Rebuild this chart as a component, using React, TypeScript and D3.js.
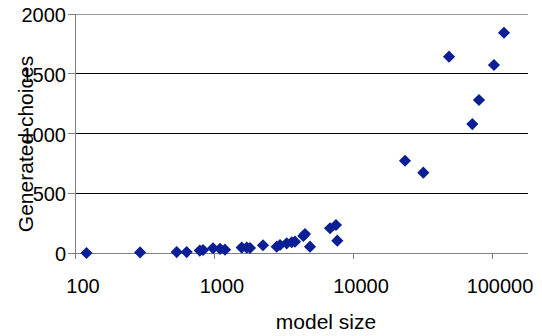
import React from "react";
import * as d3 from "d3";

const modelSizes = [121, 294, 539, 636, 790, 834, 984, 1105, 1200, 1582, 1719, 1816, 2252, 2825, 2985, 3334, 3623, 3825, 4390, 4515, 4907, 6834, 7545, 7711, 23670, 32060, 49080, 72200, 80600, 103300, 122000];
const generatedChoices = [0, 5, 8, 8, 20, 25, 40, 35, 28, 45, 45, 42, 65, 53, 67, 81, 90, 95, 142, 159, 53, 207, 234, 103, 772, 672, 1643, 1079, 1280, 1573, 1843];
const xTicks = [100, 1000, 10000, 100000];
const yTicks = [0, 500, 1000, 1500, 2000];

const W = 542;
const H = 336;
const left = 75;
const right = 528;
const top = 14;
const bottom = 253;

export default function App() {
  const x = d3.scaleLog().domain([100, 100 * Math.pow(10, (right - left) / 139)]).range([left, right]);
  const y = d3.scaleLinear().domain([0, 2000]).range([bottom, top]);
  const diamond = d3.symbol().type(d3.symbolSquare).size(74)() as string;
  const font = "'Liberation Sans', Arial, sans-serif";
  return (
    <svg width={W} height={H} style={{ position: "absolute", left: 0, top: 0, background: "#fff" }} fontFamily={font}>
      {yTicks.map((t) => (
        <g key={"y" + t}>
          <line x1={left} x2={right} y1={y(t)} y2={y(t)} stroke={t === 2000 ? "#999" : t === 0 ? "#808080" : "#000"} strokeWidth={1} shapeRendering="crispEdges" />
          <line x1={left - 7} x2={left} y1={y(t)} y2={y(t)} stroke="#808080" shapeRendering="crispEdges" />
          <text x={66} y={y(t) + 8} textAnchor="end" fontSize={20} fill="#000">{t}</text>
        </g>
      ))}
      <line x1={left} x2={left} y1={top} y2={bottom + 6} stroke="#808080" shapeRendering="crispEdges" />
      {xTicks.map((t) => (
        <g key={"x" + t}>
          <line x1={x(t)} x2={x(t)} y1={bottom} y2={bottom + 6} stroke="#808080" shapeRendering="crispEdges" />
          <text x={x(t) + 8} y={293} textAnchor="middle" fontSize={20} fill="#000">{t}</text>
        </g>
      ))}
      {modelSizes.map((s, i) => (
        <path key={i} d={diamond} transform={`translate(${x(s)},${y(generatedChoices[i])}) rotate(45)`} fill="#0a1f96" />
      ))}
      <text x={326} y={329} textAnchor="middle" fontSize={21} fill="#000">model size</text>
      <text transform={`translate(33,144) rotate(-90)`} textAnchor="middle" fontSize={21} fill="#000">Generated choices</text>
    </svg>
  );
}
